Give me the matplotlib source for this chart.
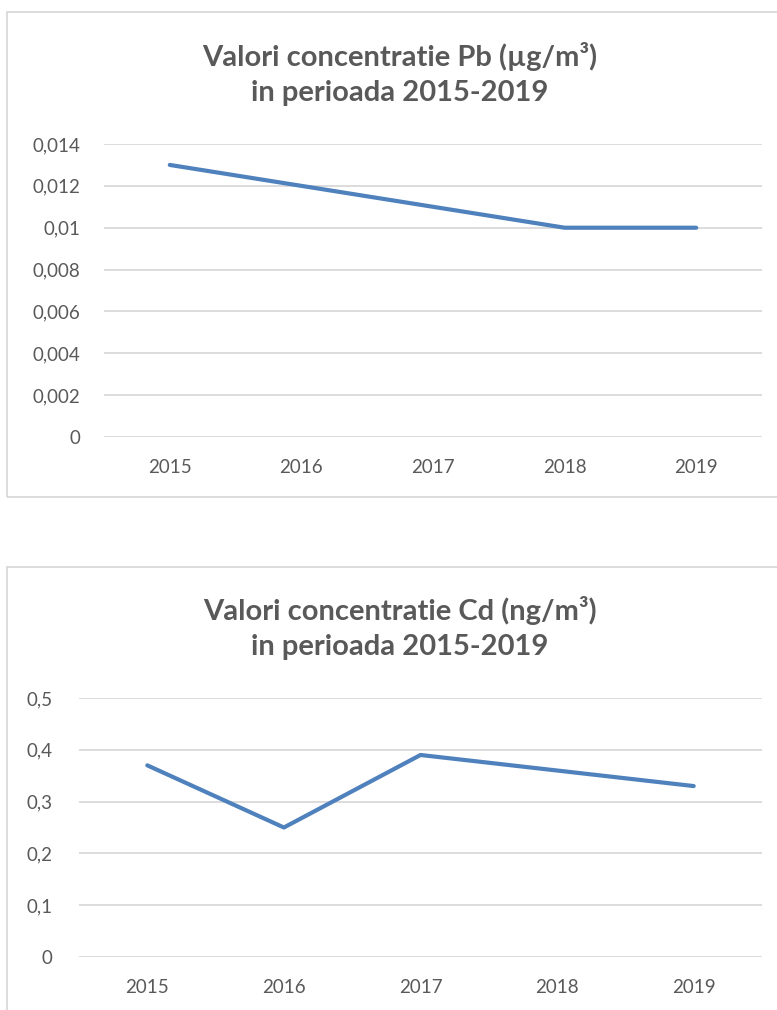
import numpy as np
import matplotlib
matplotlib.use("Agg")
import matplotlib.pyplot as plt
from matplotlib.patches import Rectangle

plt.rcParams['font.family'] = ['Lato', 'DejaVu Sans']

# date
years = ['2015', '2016', '2017', '2018', '2019']
pb_values = [0.013, 0.012, 0.011, 0.010, 0.010]
cd_values = [0.37, 0.25, 0.39, 0.36, 0.33]
pb_ticks = [0, 0.002, 0.004, 0.006, 0.008, 0.010, 0.012, 0.014]
pb_labels = ['0', '0,002', '0,004', '0,006', '0,008', '0,01', '0,012', '0,014']
cd_ticks = [0, 0.1, 0.2, 0.3, 0.4, 0.5]
cd_labels = ['0', '0,1', '0,2', '0,3', '0,4', '0,5']

W, H = 777, 1010
txt = '#595959'
grid = '#d9d9d9'
blue = '#4f81bd'

fig = plt.figure(figsize=(W / 100, H / 100), dpi=100)


def px(x0, y0, x1, y1):
    # pixel box (top-left origin) -> figure fraction rect
    return [x0 / W, 1 - y1 / H, (x1 - x0) / W, (y1 - y0) / H]


def chart_box(y0, y1):
    r = Rectangle((7 / W, 1 - y1 / H), (W + 20) / W, (y1 - y0) / H,
                  transform=fig.transFigure, fill=False, edgecolor=grid,
                  linewidth=1.3, clip_on=False)
    fig.patches.append(r)


def line_chart(rect, values, ticks, labels, title, title_y, pad):
    ax = fig.add_axes(rect)
    x = np.arange(len(years))
    ax.plot(x, values, color=blue, linewidth=3, solid_capstyle='round',
            solid_joinstyle='round')
    ax.set_xlim(-0.5, len(years) - 0.5)
    ax.set_ylim(ticks[0], ticks[-1])
    ax.set_yticks(ticks)
    ax.set_yticklabels(labels)
    ax.set_xticks(x)
    ax.set_xticklabels(years)
    ax.grid(axis='y', color=grid, linewidth=1.3)
    ax.set_axisbelow(True)
    for s in ax.spines.values():
        s.set_visible(False)
    ax.tick_params(length=0, colors=txt, labelsize=13.5)
    ax.tick_params(axis='y', pad=pad)
    ax.tick_params(axis='x', pad=16)
    fig.text(400 / W, 1 - title_y / H, title, ha='center', va='center',
             fontsize=21, fontweight='bold', color=txt, linespacing=1.45)
    return ax


chart_box(12, 497)
chart_box(567, 1030)

line_chart(px(104, 144, 762, 437), pb_values, pb_ticks, pb_labels,
           'Valori concentratie Pb (µg/m³)\nin perioada 2015-2019', 74, 17)
line_chart(px(79, 698, 762, 957), cd_values, cd_ticks, cd_labels,
           'Valori concentratie Cd (ng/m³)\nin perioada 2015-2019', 628, 19)

fig.savefig('out.png', dpi=100)
